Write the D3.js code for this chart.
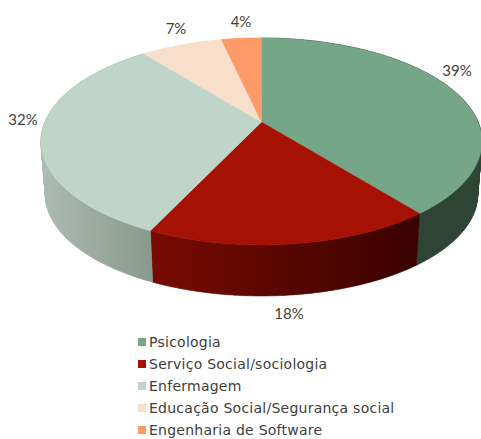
<!DOCTYPE html>
<html><head><meta charset="utf-8">
<script src="https://cdnjs.cloudflare.com/ajax/libs/d3/7.8.5/d3.min.js"></script>
<style>html,body{margin:0;padding:0;background:#fff;overflow:hidden}svg{display:block}</style>
</head><body><svg id="c" width="481" height="439"></svg>
<script>
const categories = ["Psicologia","Serviço Social/sociologia","Enfermagem","Educação Social/Segurança social","Engenharia de Software"];
const values = [39.3,17.7,32.3,7.2,3.5];
const labels = ["39%","18%","32%","7%","4%"];
const topColors = ["#76a688","#a51203","#c0d5c9","#f8dfcb","#fd9a68"];
const wallLeft = ["#2e4536","#780b02","#adbcb2","#f8dfcb","#fd9a68"];
const wallRight = ["#2e4536","#380200","#88998e","#f8dfcb","#fd9a68"];
const labelX = [457,289,23,176,241];
const labelY = [70,313,119,28,21];

const cx=261.5, cy=122, A=216.6, B=99.8, k=0.188, wallScale=0.98, wallDrop=53.5;
const svg=d3.select("#c");
const defs=svg.append("defs");
const arcs=d3.pie().sort(null).value(d=>d)(values);

const rimTop=a=>{const u=Math.sin(a),v=-Math.cos(a),w=1-k*v;return [cx+A*u/w,cy+B*v/w];};
const rimBottom=a=>{const p=rimTop(a);return [cx+(p[0]-cx)*wallScale,cy+wallDrop+(p[1]-cy)*wallScale];};
const line=d3.line();
const samples=(a0,a1)=>{const n=Math.max(2,Math.ceil((a1-a0)/0.01));return d3.range(n+1).map(i=>a0+(a1-a0)*i/n);};

// side walls: one quad per sample step so the silhouette follows the tangent between rims
arcs.forEach((d,i)=>{
  const s=samples(d.startAngle,d.endAngle);
  const t=s.map(rimTop), b=s.map(rimBottom);
  const xs=t.concat(b).map(p=>p[0]);
  const id="w"+i;
  const g=defs.append("linearGradient").attr("id",id).attr("gradientUnits","userSpaceOnUse")
    .attr("x1",d3.min(xs)).attr("x2",d3.max(xs)).attr("y1",0).attr("y2",0);
  g.append("stop").attr("offset",0).attr("stop-color",wallLeft[i]);
  g.append("stop").attr("offset",1).attr("stop-color",wallRight[i]);
  const quads=d3.pairs(d3.range(s.length)).map(([p,q])=>line([t[p],t[q],b[q],b[p]])+"Z").join("");
  svg.append("path").attr("d",quads).attr("fill",`url(#${id})`)
    .attr("stroke",`url(#${id})`).attr("stroke-width",0.6);
});
// top faces
arcs.forEach((d,i)=>{
  const pts=[[cx,cy]].concat(samples(d.startAngle,d.endAngle).map(rimTop));
  svg.append("path").attr("d",line(pts)+"Z").attr("fill",topColors[i])
    .attr("stroke",topColors[i]).attr("stroke-width",0.4);
});
// data labels
labels.forEach((t,i)=>{
  svg.append("text").attr("x",labelX[i]).attr("y",labelY[i]).attr("text-anchor","middle")
    .attr("dominant-baseline","central").attr("font-family","Lato, sans-serif")
    .attr("font-size",15).attr("fill","#404040").text(t);
});
// legend
const legendY=d3.scaleLinear().domain([0,4]).range([342,430]);
categories.forEach((c,i)=>{
  const y=legendY(i);
  svg.append("rect").attr("x",138).attr("y",y-4).attr("width",8).attr("height",8).attr("fill",topColors[i]);
  svg.append("text").attr("x",149).attr("y",y).attr("dominant-baseline","central")
    .attr("font-family","'DejaVu Sans', sans-serif").attr("font-size",14).attr("letter-spacing",0.25)
    .attr("fill","#404040").text(c);
});
</script></body></html>
